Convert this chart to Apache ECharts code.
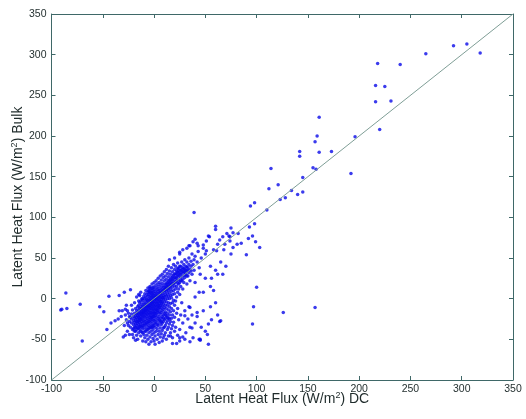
<!DOCTYPE html>
<html>
<head>
<meta charset="utf-8">
<script src="https://cdn.jsdelivr.net/npm/echarts@6/dist/echarts.min.js"></script>
<style>
html,body{margin:0;padding:0;background:#fff;}
#chart{width:526px;height:419px;}
</style>
</head>
<body>
<div id="chart"></div>
<script>
// Axis ticks
const xTicks = [-100, -50, 0, 50, 100, 150, 200, 250, 300, 350];
const yTicks = [-100, -50, 0, 50, 100, 150, 200, 250, 300, 350];
// 1:1 reference line end values
const oneToOne = [-100, 350];

// Scattered outlier points [DC, Bulk]
const outlierPoints = [
[-91,-14],[-90,-13],[-86,7],[-85,-12],[-72,-7],[-70,-52],[-53,-10],[-49,-16],[-44,3],[-34,4],[-29,8],[-23,11],
[-42,-30],[-46,-38],[-38,-27],[-35,-25],[-32,-22],[-34,-15],[-31,-15],[-28,-13],[-26,-15],[-22,-19],[-23,-23],
[-30,-47],[-18,-51],[-20,-48],[-5,-56],[1,-56],[45,-51],[53,-56],[52,-44],[53,-31],[56,-26],[64,-28],[65,-27],
[48,8],[44,8],[97,-10],[100,14],[96,-31],[126,-17],[157,-11],[39,106],[60,89],[60,85],[75,87],[77,81],[82,80],
[93,88],[98,92],[85,68],[92,74],[96,77],[99,70],[103,63],[90,54],[53,77],[94,114],[98,118],[110,109],[112,135],
[114,160],[121,140],[123,122],[128,124],[134,133],[140,128],[145,131],[145,149],[142,181],[142,175],[155,161],
[158,159],[157,193],[159,200],[161,223],[161,180],[173,181],[192,154],[196,199],[216,262],[218,289],[216,242],
[225,261],[220,208],[231,243],[240,288],[265,301],[292,311],[305,313],[318,302],
[67,30],[62,30],[71,80],[74,76],[67,76],[64,72],[62,67],[58,60],[51,59],[61,59],[77,63],[81,67],[74,71],
[54,76],[51,71],[48,66],[43,65],[40,73],[34,65],[25,57],[73,77],[69,67],[56,25],[42,-17],[35,-11],[30,-21],
[37,-36],[45,-50],[25,-48],[16,-46],[-14,4],[-15,-3],[-11,0],[-5,9],[-1,13],[-4,13]
];

// Dense central cluster [DC, Bulk]
const clusterPoints = [
[-28,-20],[-27,-26],[-26,-30],[-25,-18],[-25,-33],[-24,-22],[-24,-28],[-23,-35],[-22,-25],[-22,-30],[-21,-14],[-21,-38],
[-20,-22],[-20,-27],[-20,-32],[-26,-40],[-24,-44],[-29,-33],[-27,-8],[-22,-8],[-28,-45],[-21,-44],
[-19,-18],[-19,-24],[-19,-29],[-19,-35],[-18,-12],[-18,-21],[-18,-26],[-18,-31],[-18,-40],[-17,-15],[-17,-19],[-17,-23],
[-17,-28],[-17,-33],[-17,-45],[-16,-10],[-16,-17],[-16,-21],[-16,-25],[-16,-30],[-16,-36],[-16,-50],[-15,-8],[-15,-14],
[-15,-19],[-15,-23],[-15,-27],[-15,-32],[-15,-42],[-14,-5],[-14,-12],[-14,-16],[-14,-20],[-14,-24],[-14,-29],[-14,-34],
[-14,-38],[-13,-3],[-13,-10],[-13,-14],[-13,-18],[-13,-22],[-13,-26],[-13,-31],[-13,-46],[-12,0],[-12,-7],[-12,-12],
[-12,-16],[-12,-20],[-12,-24],[-12,-28],[-12,-35],[-12,-41],[-11,-2],[-11,-9],[-11,-13],[-11,-17],[-11,-21],[-11,-25],
[-11,-30],[-11,-37],[-11,-52],[-10,3],[-10,-5],[-10,-10],[-10,-14],[-10,-18],[-10,-22],[-10,-27],[-10,-33],[-10,-44],
[-19,-5],[-17,2],[-15,5],[-13,8],
[-9,6],[-9,0],[-9,-7],[-9,-11],[-9,-15],[-9,-19],[-9,-23],[-9,-28],[-9,-36],[-9,-48],[-8,10],[-8,2],[-8,-3],[-8,-8],
[-8,-12],[-8,-16],[-8,-20],[-8,-25],[-8,-31],[-8,-40],[-8,-53],[-7,5],[-7,-1],[-7,-5],[-7,-10],[-7,-14],[-7,-18],
[-7,-22],[-7,-27],[-7,-34],[-7,-45],[-6,13],[-6,8],[-6,3],[-6,-2],[-6,-7],[-6,-11],[-6,-15],[-6,-19],[-6,-24],[-6,-30],
[-6,-38],[-6,-50],[-5,10],[-5,5],[-5,0],[-5,-4],[-5,-9],[-5,-13],[-5,-17],[-5,-21],[-5,-26],[-5,-33],[-5,-42],[-4,15],
[-4,7],[-4,2],[-4,-2],[-4,-6],[-4,-11],[-4,-15],[-4,-19],[-4,-23],[-4,-29],[-4,-36],[-4,-47],[-3,12],[-3,8],[-3,4],
[-3,0],[-3,-4],[-3,-8],[-3,-12],[-3,-17],[-3,-21],[-3,-26],[-3,-32],[-3,-40],[-3,-53],[-2,18],[-2,10],[-2,6],[-2,2],
[-2,-2],[-2,-6],[-2,-10],[-2,-14],[-2,-18],[-2,-23],[-2,-28],[-2,-35],[-2,-44],[-1,14],[-1,8],[-1,4],[-1,0],[-1,-4],
[-1,-8],[-1,-12],[-1,-16],[-1,-20],[-1,-25],[-1,-31],[-1,-38],[-1,-49],[0,20],[0,11],[0,6],[0,2],[0,-2],[0,-6],[0,-10],
[0,-14],[0,-18],[0,-22],[0,-27],[0,-33],[0,-42],[0,-52],
[1,16],[1,9],[1,4],[1,0],[1,-4],[1,-8],[1,-12],[1,-16],[1,-21],[1,-26],[1,-35],[1,-46],[2,22],[2,13],[2,7],[2,3],[2,-1],
[2,-5],[2,-9],[2,-13],[2,-18],[2,-23],[2,-30],[2,-40],[3,18],[3,11],[3,6],[3,2],[3,-2],[3,-6],[3,-10],[3,-15],[3,-20],
[3,-27],[3,-37],[3,-50],[4,25],[4,15],[4,9],[4,4],[4,0],[4,-4],[4,-8],[4,-12],[4,-17],[4,-24],[4,-33],[4,-44],[5,20],
[5,12],[5,7],[5,2],[5,-2],[5,-6],[5,-11],[5,-16],[5,-22],[5,-30],[5,-40],[5,-54],[6,28],[6,17],[6,10],[6,5],[6,1],
[6,-3],[6,-8],[6,-13],[6,-19],[6,-27],[6,-36],[6,-47],[7,23],[7,14],[7,8],[7,3],[7,-1],[7,-6],[7,-11],[7,-17],[7,-24],
[7,-32],[7,-43],[8,30],[8,19],[8,12],[8,6],[8,1],[8,-4],[8,-9],[8,-15],[8,-22],[8,-30],[8,-39],[8,-52],[9,26],[9,16],
[9,10],[9,4],[9,-1],[9,-7],[9,-13],[9,-20],[9,-28],[9,-36],[9,-48],[10,33],[10,22],[10,14],[10,8],[10,2],[10,-4],
[10,-11],[10,-18],[10,-26],[10,-35],[10,-45],
[11,28],[11,18],[11,11],[11,5],[11,-1],[11,-8],[11,-16],[11,-24],[11,-33],[11,-42],[12,36],[12,24],[12,15],[12,9],[12,3],
[12,-4],[12,-12],[12,-21],[12,-30],[12,-50],[13,31],[13,20],[13,12],[13,6],[13,0],[13,-8],[13,-18],[13,-27],[13,-38],
[14,40],[14,27],[14,17],[14,10],[14,3],[14,-5],[14,-14],[14,-24],[14,-35],[14,-46],[15,34],[15,23],[15,14],[15,7],
[15,0],[15,-10],[15,-20],[15,-31],[16,30],[16,20],[16,12],[16,4],[16,-6],[16,-16],[16,-28],[16,-42],[17,38],[17,26],
[17,17],[17,9],[17,1],[17,-12],[17,-24],[17,-37],[18,33],[18,23],[18,14],[18,5],[18,-5],[18,-20],[18,-33],[18,-48],
[19,42],[19,29],[19,19],[19,10],[19,-2],[19,-15],[19,-29],[20,36],[20,26],[20,16],[20,6],[20,-8],[20,-23],[20,-40],
[21,40],[21,31],[21,21],[21,12],[21,-3],[21,-35],[22,34],[22,25],[22,15],[22,2],[22,-18],[23,44],[23,37],[23,28],
[23,19],[23,8],[23,-12],[23,-45],[24,32],[24,23],[24,12],[24,-26],[25,40],[25,30],[25,20],[25,5],[25,-38],[26,35],
[26,26],[26,15],[26,-20],[27,45],[27,32],[27,22],[27,-5],[28,38],[28,28],[28,12],[28,-30],[29,42],[29,33],[29,20],
[30,48],[30,36],[30,26],[30,-15],[31,40],[31,30],[31,-42],[32,45],[32,34],[32,18],[33,38],[33,28],[33,-25],[34,50],
[34,42],[34,-10],[35,36],[35,22],[35,-35],[36,46],[36,40],[37,55],[37,30],[37,-20],[38,42],[38,-48],[39,48],[39,35],
[40,52],[40,-30],[40,2],[42,45],[42,-22],[43,58],[44,38],[44,-50],[46,50],[46,-35],[48,62],[48,-15],[50,55],[50,-40],
[28,60],[32,62],[25,55],[20,50],[15,48],[35,65],[38,70],[42,68],
[30,-50],[25,-52],[35,-53],[22,-55],[18,-55],[28,-47],[60,-5],[58,10],[55,15],[70,40],[65,45],[55,40],[60,35],
[75,55],[68,60],[45,30],[50,25],[40,20],[55,-10],[62,-20],
[11,13],[12,18],[13,15],[14,21],[15,18],[16,24],[17,21],[18,27],[19,24],[20,30],[21,26],[22,30],[23,33],[24,28],
[25,34],[26,30],[27,36],[28,33],[29,37],[30,32],[31,35],[32,39],[33,35],[24,37],[26,40],[20,20],[18,18],[16,16],
[14,14],[12,12],[22,22],[24,18],[26,22],[28,24],[30,29],[32,28],[34,32],[36,34],
[-18,-35],[-16,-28],[-14,-26],[-12,-18],[-10,-16],[-8,-14],[-6,-9],[-4,-8],[-2,-4],[0,0],[2,1],[4,2],[6,7],[8,9],[10,11],
[-20,-37],[-19,-40],[-17,-38],[-15,-36],[-13,-34],[-11,-33],[-9,-31],[-7,-30],[-5,-28],[-3,-24],[-1,-22],[1,-18],
[3,-14],[5,-9],[7,-4],[9,1],[-7,-38],[-5,-36],[-3,-35],[-1,-34],[1,-30],[3,-32],[5,-26],[7,-28],[9,-24],[11,-20],
[13,-23],[15,-25],[-9,-40],[-11,-42],[-13,-40]
];

const axisColor = '#3f6868';
const textColor = '#1f2b2b';
const font = 'Liberation Sans, Arial, sans-serif';

const chart = echarts.init(document.getElementById('chart'), null, {renderer: 'canvas'});

const rich = {
  n: {fontSize: 14, fontFamily: font, color: textColor, lineHeight: 16},
  s: {fontSize: 9, fontFamily: font, color: textColor, verticalAlign: 'top', lineHeight: 10, padding: [0, 0, 6, 0]}
};

function makeAxis(pos, isMain, min, max, ticks, name) {
  return {
    type: 'value',
    position: pos,
    min: min, max: max, interval: ticks[1] - ticks[0],
    axisLine: {show: true, onZero: false, lineStyle: {color: axisColor, width: 1}},
    axisTick: {show: true, inside: true, length: 4, lineStyle: {color: axisColor, width: 1}},
    axisLabel: {show: isMain, fontSize: 10.5, fontFamily: font, color: textColor, margin: pos === 'left' ? 5 : 4,
      showMinLabel: true, showMaxLabel: true, hideOverlap: false},
    splitLine: {show: false},
    name: isMain ? name : '',
    nameLocation: 'middle',
    nameGap: pos === 'left' ? 25 : 11,
    nameMoveOverlap: false,
    nameTextStyle: {rich: rich, fontSize: 14, fontFamily: font, color: textColor}
  };
}

chart.setOption({
  animation: false,
  backgroundColor: '#ffffff',
  grid: {left: 51.5, right: 13, top: 14, bottom: 39, containLabel: false, outerBoundsMode: 'none'},
  xAxis: [
    makeAxis('bottom', true, xTicks[0], xTicks[xTicks.length - 1], xTicks, '{n|Latent Heat Flux (W/m}{s|2}{n|) DC}'),
    makeAxis('top', false, xTicks[0], xTicks[xTicks.length - 1], xTicks, '')
  ],
  yAxis: [
    makeAxis('left', true, yTicks[0], yTicks[yTicks.length - 1], yTicks, '{n|Latent Heat Flux (W/m}{s|2}{n|) Bulk}'),
    makeAxis('right', false, yTicks[0], yTicks[yTicks.length - 1], yTicks, '')
  ],
  series: [
    {
      type: 'scatter',
      xAxisIndex: 0, yAxisIndex: 0,
      symbol: 'circle',
      symbolSize: 3.5,
      itemStyle: {color: '#0a0ae8'},
      data: clusterPoints.concat(outlierPoints),
      silent: true
    },
    {
      type: 'line',
      xAxisIndex: 0, yAxisIndex: 0,
      data: [[oneToOne[0], oneToOne[0]], [oneToOne[1], oneToOne[1]]],
      symbol: 'none',
      lineStyle: {color: '#7f9e96', width: 1},
      silent: true,
      z: 3
    }
  ]
});
</script>
</body>
</html>
